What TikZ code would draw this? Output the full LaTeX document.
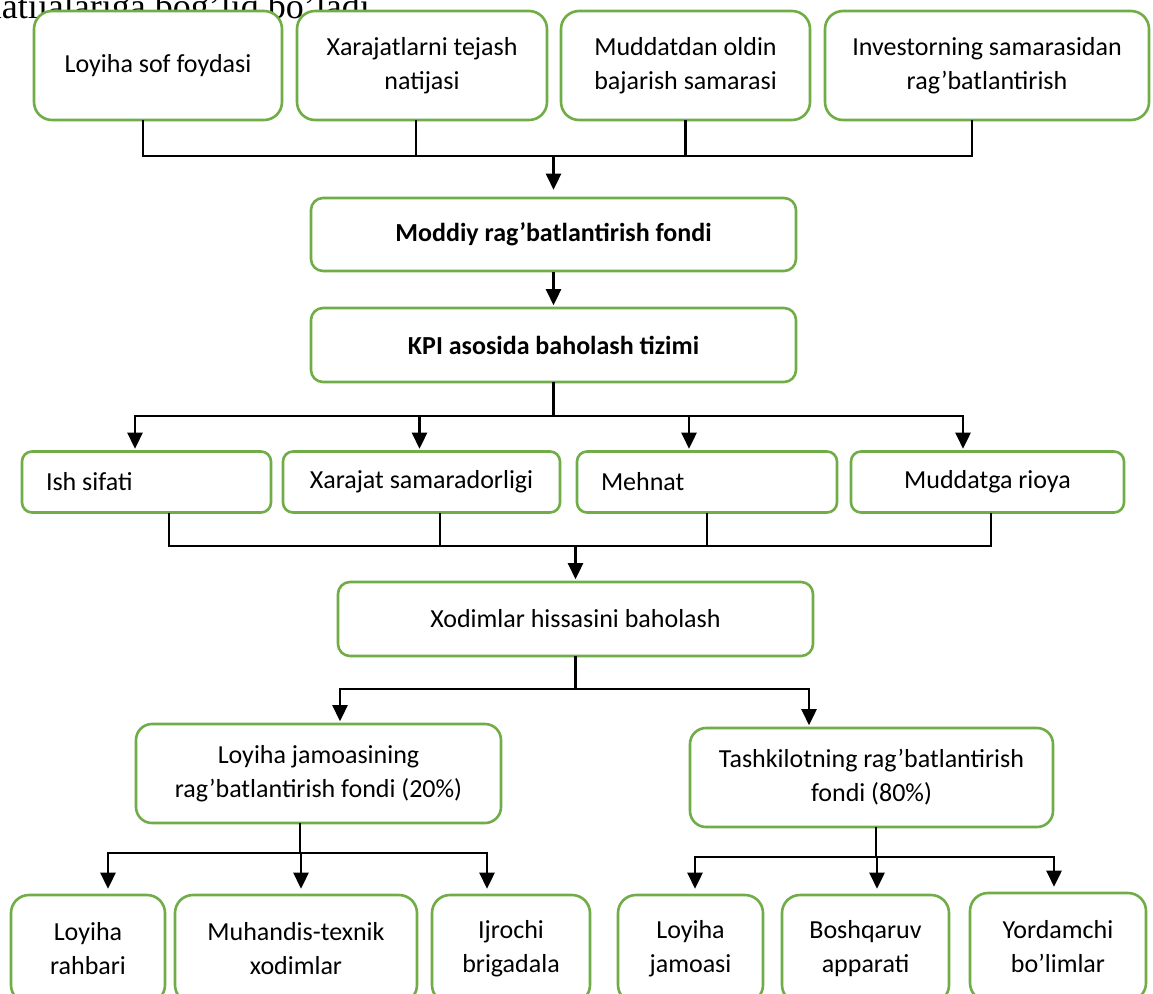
\documentclass[tikz,border=0pt]{standalone}
\usepackage{fontspec}
\setmainfont{Carlito}
\newfontfamily\headfont{Liberation Serif}
\usetikzlibrary{arrows.meta}
\definecolor{boxgreen}{RGB}{112,173,71}
\tikzset{
  gbox/.style={draw=boxgreen, fill=white, line width=2.6pt, rounded corners=#1,
    align=center, inner sep=0pt, font=\fontsize{26}{34}\selectfont},
  gbox/.default=16pt,
  boldtxt/.style={font=\fontsize{26}{34}\selectfont\bfseries},
  ln/.style={draw=black, line width=2.6pt, line cap=rect},
  arr/.style={draw=black, line width=2.6pt, -{Triangle[length=16pt,width=15pt]}, shorten >=1.5pt},
  arrb/.style={arr, shorten >=5pt},
  arrt/.style={arr, shorten >=7pt}
}
\begin{document}
\begin{tikzpicture}[x=1pt,y=-1pt]
\fill[white] (0,0) rectangle (1153,993);
\useasboundingbox (0,0) rectangle (1153,993);
\clip (0,0) rectangle (1153,993);

% cut-off heading text
\node[anchor=base east, inner sep=0pt, font=\headfont\fontsize{36}{40}\selectfont] (hdr) at (370,18) {natijalariga bog’liq bo’ladi};

% top row
\node[gbox=18pt, minimum width=248pt, minimum height=109pt] (B1) at (158,65.5) {Loyiha sof foydasi};
\node[gbox=18pt, minimum width=250pt, minimum height=109pt] (B2) at (422,65.5) {Xarajatlarni tejash\\natijasi};
\node[gbox=18pt, minimum width=249pt, minimum height=109pt] (B3) at (685.5,65.5) {Muddatdan oldin\\bajarish samarasi};
\node[gbox=18pt, minimum width=324pt, minimum height=109pt] (B4) at (987,65.5) {Investorning samarasidan\\rag’batlantirish};

% central column
\node[gbox=12pt, boldtxt, minimum width=485pt, minimum height=73pt] (M) at (553.5,234.5) {Moddiy rag’batlantirish fondi};
\node[gbox=12pt, boldtxt, minimum width=485pt, minimum height=74pt] (K) at (553.5,345) {KPI asosida baholash tizimi};

% KPI criteria row
\node[gbox=10pt, minimum width=249pt, minimum height=61pt] (R1) at (146.5,482) {\makebox[201pt][l]{Ish sifati}};
\node[gbox=10pt, minimum width=277pt, minimum height=61pt] (R2) at (421.5,482) {Xarajat samaradorligi};
\node[gbox=10pt, minimum width=260pt, minimum height=61pt] (R3) at (707,482) {\makebox[212pt][l]{Mehnat}};
\node[gbox=10pt, minimum width=273pt, minimum height=61pt] (R4) at (987.5,482) {Muddatga rioya};

\node[gbox=12pt, minimum width=475pt, minimum height=74pt] (X) at (575.5,619) {Xodimlar hissasini baholash};

\node[gbox=16pt, minimum width=365pt, minimum height=99pt] (LJ) at (318.5,773.5) {Loyiha jamoasining\\rag’batlantirish fondi (20\%)};
\node[gbox=16pt, minimum width=363pt, minimum height=99pt] (T) at (871.5,777.5) {Tashkilotning rag’batlantirish\\fondi (80\%)};

% bottom row
\node[gbox=18pt, minimum width=154pt, minimum height=108pt] (LR) at (88,949) {Loyiha\\rahbari};
\node[gbox=18pt, minimum width=242pt, minimum height=108pt] (MT) at (296,949) {Muhandis-texnik\\xodimlar};
\node[gbox=18pt, minimum width=158pt, minimum height=108pt] (IB) at (511,949) {Ijrochi\\brigadala};
\node[gbox=18pt, minimum width=145pt, minimum height=108pt] (LJa) at (690.5,949) {Loyiha\\jamoasi};
\node[gbox=18pt, minimum width=167pt, minimum height=108pt] (BA) at (865.5,949) {Boshqaruv\\apparati};
\node[gbox=18pt, minimum width=176pt, minimum height=108pt] (YB) at (1058,947) {Yordamchi\\bo’limlar};

% ---- connectors: top row -> M
\coordinate (j1) at (553.5,156);
\coordinate (t1) at ([xshift=-15pt]B1.south);
\coordinate (t2) at ([xshift=-6pt]B2.south);
\coordinate (t3) at (B3.south);
\coordinate (t4) at ([xshift=-15pt]B4.south);
\draw[ln] (t1) -- (t1|-j1) -- (t4|-j1) -- (t4);
\draw[ln] (t2) -- (t2|-j1);
\draw[ln] (t3) -- (t3|-j1);
\draw[arrt] (j1) -- (M.north);

% M -> K
\draw[arr] (M.south) -- (K.north);

% K -> criteria
\coordinate (j2) at (553.5,416);
\draw[ln] (K.south) -- (j2);
\coordinate (a1) at ([xshift=-11.5pt]R1.north);
\coordinate (a2) at ([xshift=-2pt]R2.north);
\coordinate (a3) at ([xshift=-18pt]R3.north);
\coordinate (a4) at ([xshift=-24.5pt]R4.north);
\draw[ln] (a1|-j2) -- (a4|-j2);
\draw[arr] (a1|-j2) -- (a1);
\draw[arr] (a2|-j2) -- (a2);
\draw[arr] (a3|-j2) -- (a3);
\draw[arr] (a4|-j2) -- (a4);

% criteria -> X
\coordinate (j3) at (575.5,546);
\coordinate (b1) at ([xshift=22.5pt]R1.south);
\coordinate (b2) at ([xshift=18.5pt]R2.south);
\coordinate (b3) at (R3.south);
\coordinate (b4) at ([xshift=3.5pt]R4.south);
\draw[ln] (b1) -- (b1|-j3) -- (b4|-j3) -- (b4);
\draw[ln] (b2) -- (b2|-j3);
\draw[ln] (b3) -- (b3|-j3);
\draw[arr] (j3) -- (X.north);

% X -> LJ, T
\coordinate (j4) at (575.5,689);
\draw[ln] (X.south) -- (j4);
\coordinate (c1) at ([xshift=21.5pt]LJ.north);
\coordinate (c2) at ([xshift=-62.5pt]T.north);
\draw[ln] (c1|-j4) -- (c2|-j4);
\draw[arr] (c1|-j4) -- (c1);
\draw[arr] (c2|-j4) -- (c2);

% LJ -> bottom left
\coordinate (d0) at ([xshift=-18.5pt]LJ.south);
\coordinate (j5) at (300,853);
\draw[ln] (d0) -- (d0|-j5);
\coordinate (e1) at ([xshift=20pt]LR.north);
\coordinate (e2) at ([xshift=5pt]MT.north);
\coordinate (e3) at ([xshift=-24pt]IB.north);
\draw[ln] (e1|-j5) -- (e3|-j5);
\draw[arrb] (e1|-j5) -- (e1);
\draw[arrb] (e2|-j5) -- (e2);
\draw[arrb] (e3|-j5) -- (e3);

% T -> bottom right
\coordinate (f0) at ([xshift=4.5pt]T.south);
\coordinate (j6) at (876,857);
\draw[ln] (f0) -- (f0|-j6);
\coordinate (g1) at ([xshift=4.5pt]LJa.north);
\coordinate (g2) at ([xshift=11.5pt]BA.north);
\coordinate (g3) at ([xshift=-4pt]YB.north);
\draw[ln] (g1|-j6) -- (g3|-j6);
\draw[arrb] (g1|-j6) -- (g1);
\draw[arrb] (g2|-j6) -- (g2);
\draw[arrb] (g3|-j6) -- (g3);
\end{tikzpicture}
\end{document}
